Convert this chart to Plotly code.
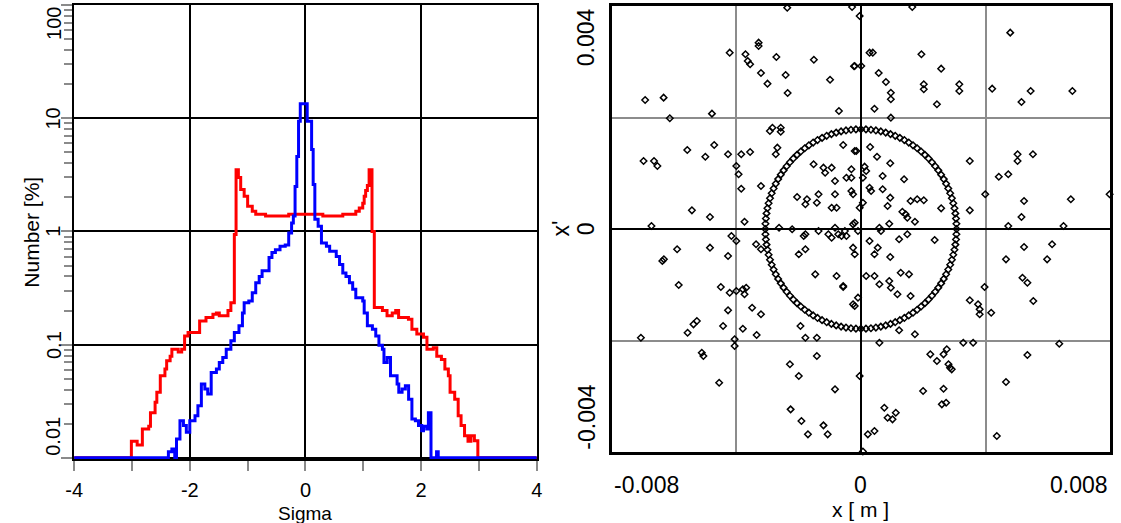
import math
import plotly.graph_objects as go

# ---------------- left panel: histograms (Number [%] vs Sigma), step curves ----------------
red_sigma = [-4.0, -3.01, -2.91, -2.82, -2.71, -2.68, -2.60, -2.57, -2.51, -2.43, -2.40, -2.34, -2.31,
             -2.20, -2.14, -2.09, -2.03, -1.83, -1.72, -1.60, -1.54, -1.49, -1.40, -1.34, -1.29, -1.23,
             -1.20, -1.16, -1.12, -1.06, -1.00, -0.92, -0.86, -0.69, -0.29, 0.30, 0.645, 0.87, 0.93,
             0.99, 1.015, 1.04, 1.07, 1.10, 1.15, 1.19, 1.33, 1.41, 1.50, 1.56, 1.61, 1.78, 1.84, 1.925,
             2.04, 2.10, 2.21, 2.27, 2.35, 2.41, 2.47, 2.50, 2.58, 2.64, 2.69, 2.75, 2.81, 2.86, 2.92,
             2.98, 4.0]
red_pct = [0.01, 0.014, 0.013, 0.018, 0.019, 0.025, 0.031, 0.038, 0.053, 0.061, 0.072, 0.079, 0.091,
           0.086, 0.091, 0.119, 0.128, 0.162, 0.174, 0.186, 0.19, 0.18, 0.18, 0.20, 0.235, 0.94,
           3.5, 3.0, 2.35, 2.05, 1.67, 1.51, 1.42, 1.37, 1.42, 1.37, 1.42, 1.51, 1.61,
           1.77, 2.05, 2.3, 2.55, 3.5, 1.0, 0.213, 0.20, 0.18, 0.19, 0.20, 0.174, 0.168, 0.137, 0.124,
           0.116, 0.091, 0.094, 0.079, 0.074, 0.061, 0.053, 0.038, 0.033, 0.0236, 0.0193, 0.0157, 0.014,
           0.0157, 0.0142, 0.01, 0.01]

blue_sigma = [-4.0, -2.37, -2.31, -2.26, -2.23, -2.17, -2.11, -2.06, -2.00, -1.91, -1.86, -1.80, -1.74,
              -1.69, -1.63, -1.54, -1.49, -1.43, -1.37, -1.29, -1.23, -1.15, -1.09, -1.06, -0.98, -0.92,
              -0.86, -0.80, -0.75, -0.63, -0.58, -0.52, -0.44, -0.35, -0.29, -0.24, -0.21, -0.18, -0.15,
              -0.12, -0.09, 0.03, 0.106, 0.133, 0.162, 0.219, 0.276, 0.362, 0.418, 0.532, 0.589, 0.645,
              0.70, 0.76, 0.816, 0.87, 0.99, 1.015, 1.07, 1.157, 1.215, 1.27, 1.33, 1.357, 1.413, 1.47,
              1.584, 1.613, 1.67, 1.727, 1.783, 1.84, 1.90, 1.954, 2.01, 2.04, 2.096, 2.125, 2.17, 2.266,
              2.295, 4.0]
blue_pct = [0.01, 0.0113, 0.012, 0.01, 0.0147, 0.0213, 0.0193, 0.0168, 0.0213, 0.0236, 0.0289, 0.0449,
            0.0405, 0.0366, 0.0569, 0.061, 0.0697, 0.077, 0.091, 0.108, 0.128, 0.147, 0.19, 0.235, 0.243,
            0.288, 0.353, 0.40, 0.45, 0.59, 0.65, 0.69, 0.74, 0.76, 0.97, 1.19, 1.37, 2.5, 4.6, 9.4, 13.4,
            9.4, 5.3, 2.6, 1.28, 1.11, 0.79, 0.74, 0.67, 0.60, 0.51, 0.43, 0.40, 0.353, 0.308, 0.26, 0.243,
            0.19, 0.147, 0.137, 0.119, 0.099, 0.091, 0.0697, 0.077, 0.053, 0.0449, 0.038, 0.0405, 0.0433,
            0.033, 0.022, 0.0213, 0.0193, 0.0174, 0.019, 0.018, 0.025, 0.01, 0.0113, 0.01, 0.01]

left_x_ticks = [-4, -2, 0, 2, 4]
left_x_ticktext = ["-4", "-2", "0", "2", "4"]
left_x_minor = [-3, -1, 1, 3]
left_y_ticks = [0.01, 0.1, 1, 10, 100]
left_y_ticktext = ["0.01", "0.1", "1", "10", "100"]
left_y_minor = [m * 10.0 ** e for e in range(-2, 2) for m in range(2, 10)]

# ---------------- right panel: phase space x' vs x (values in mm, converted to m) ----------------
ring_x_mm = [3.070, 3.066, 3.053, 3.032, 3.003, 2.965, 2.920, 2.866, 2.804, 2.735, 2.659, 2.575, 2.484,
             2.386, 2.281, 2.171, 2.054, 1.932, 1.805, 1.672, 1.535, 1.394, 1.249, 1.100, 0.949, 0.795,
             0.638, 0.480, 0.321, 0.161,
             0.000, -0.161, -0.321, -0.480, -0.638, -0.795, -0.949, -1.100, -1.249, -1.394, -1.535,
             -1.672, -1.805, -1.932, -2.054, -2.171, -2.281, -2.386, -2.484, -2.575, -2.659, -2.735,
             -2.804, -2.866, -2.920, -2.965, -3.003, -3.032, -3.053, -3.066,
             -3.070, -3.066, -3.053, -3.032, -3.003, -2.965, -2.920, -2.866, -2.804, -2.735, -2.659,
             -2.575, -2.484, -2.386, -2.281, -2.171, -2.054, -1.932, -1.805, -1.672, -1.535, -1.394,
             -1.249, -1.100, -0.949, -0.795, -0.638, -0.480, -0.321, -0.161,
             0.000, 0.161, 0.321, 0.480, 0.638, 0.795, 0.949, 1.100, 1.249, 1.394, 1.535, 1.672, 1.805,
             1.932, 2.054, 2.171, 2.281, 2.386, 2.484, 2.575, 2.659, 2.735, 2.804, 2.866, 2.920, 2.965,
             3.003, 3.032, 3.053, 3.066]
ring_y_mm = [0.000, 0.094, 0.187, 0.280, 0.372, 0.463, 0.553, 0.642, 0.728, 0.813, 0.895, 0.975, 1.052,
             1.126, 1.198, 1.266, 1.330, 1.391, 1.448, 1.501, 1.550, 1.595, 1.635, 1.671, 1.702, 1.729,
             1.751, 1.768, 1.780, 1.787,
             1.790, 1.787, 1.780, 1.768, 1.751, 1.729, 1.702, 1.671, 1.635, 1.595, 1.550, 1.501, 1.448,
             1.391, 1.330, 1.266, 1.198, 1.126, 1.052, 0.975, 0.895, 0.813, 0.728, 0.642, 0.553, 0.463,
             0.372, 0.280, 0.187, 0.094,
             0.000, -0.094, -0.187, -0.280, -0.372, -0.463, -0.553, -0.642, -0.728, -0.813, -0.895,
             -0.975, -1.052, -1.126, -1.198, -1.266, -1.330, -1.391, -1.448, -1.501, -1.550, -1.595,
             -1.635, -1.671, -1.702, -1.729, -1.751, -1.768, -1.780, -1.787,
             -1.790, -1.787, -1.780, -1.768, -1.751, -1.729, -1.702, -1.671, -1.635, -1.595, -1.550,
             -1.501, -1.448, -1.391, -1.330, -1.266, -1.198, -1.126, -1.052, -0.975, -0.895, -0.813,
             -0.728, -0.642, -0.553, -0.463, -0.372, -0.280, -0.187, -0.094]

halo_x_mm = [
    -2.367, -3.286, -3.286, -4.215, -3.708, -3.635, -3.559, -2.716, -1.512, -0.222,
    -3.210, -2.418, -3.001, -0.992, -2.354, -6.930, -6.337, -4.785, -6.138, -0.707,
    -2.925, -2.842, -2.576, -2.576, -0.570, -0.200, -2.684, -2.735, -5.577, -4.712,
    -4.997, -4.268, -3.844, -3.559, -6.981, -6.645, -6.537, -4.002, -3.929, -3.844,
    -3.210, -1.521, -1.204, -0.941, -1.150, -0.307, -0.466, -0.833, -2.050, -1.733,
    -1.784, -1.362, -1.416, -0.833, -0.941, -0.783, -0.307, -0.253, -5.428, -4.848,
    -6.727, -3.739, -2.630, -2.209, -1.784, -1.362, -1.046, -0.833, -0.941, -0.729,
    -0.516, -0.253, -4.160, -4.002, -5.903, -4.848, -4.268, -3.368, -3.210, -1.838,
    -1.784, -1.996, -6.328,
    -6.378, -5.852, -4.499, -4.215, -4.002, -3.793, -3.739, -3.685, -4.268, -3.495,
    -3.210, -4.427, -3.793, -5.269, -5.377, -5.567, -7.066, -3.349, -4.056, -4.056,
    -5.111, -5.060, -4.553, -1.942, -1.784, -1.416, -1.467, -0.783, -0.570, -0.200,
    -1.416, -2.281, -1.996, -0.833, -2.259, -1.911, -1.702, -1.204, -1.068,
    -0.285, 1.648, -0.041, 0.276, 0.380, 1.942, -0.200, 0.010, 2.576, 0.570,
    0.802, 0.960, 0.960, 2.018, 2.018, 3.159, 3.159, 2.440, 0.434, 0.960,
    4.794, 4.214, 5.450, 6.790, 5.155,
    0.295, 0.516, 0.941, -0.149, 0.117, 0.168, 0.063, -0.307, 0.697, 1.385,
    3.495, 5.029, 5.029, 5.523, 4.427, 4.731, 0.276, 0.326, 0.697, 0.941,
    1.594, 1.806, 2.018, 0.856, 0.063, -0.041, 1.331, 1.435, 1.489, 1.733,
    2.576, 3.495, 3.992, 5.238, 6.740, 7.985, 5.155, 4.731, 6.505, 0.593,
    0.643, 0.909, -0.200, -0.095, -0.624, -0.466, 0.276, 1.226, 1.489, 2.367,
    5.238, 6.138, -0.253, -0.200, 0.539, 0.434, 0.941, 4.658, 5.979,
    5.187, 5.345, 3.970, 5.535, 3.495, 3.761, 3.812, 3.812, 4.183, 0.168,
    0.434, 0.593, 0.909, 0.960, 1.172, 1.277, 1.543, 1.594, -0.253, -0.095,
    -0.570, 1.226, 1.733, 0.593, 3.286, 3.603, 6.369, 5.345, 2.228, 2.440,
    2.652, 2.757, 2.811, 2.861, 2.915, -0.041, 4.658, 1.996, 2.652, 2.598,
    2.735, 0.751, 0.856, 1.014, 1.119, 0.222, 0.434, 4.363, 0.063]
halo_y_mm = [
    3.970, 3.342, 3.283, 3.163, 3.134, 3.014, 2.955, 3.086, 3.037, 2.919,
    2.799, 2.763, 2.607, 2.678, 2.440, 2.314, 2.356, 2.069, 1.986, 2.117,
    1.758, 1.817, 1.817, 1.746, 1.507, 1.399, 1.459, 1.340, 1.417, 1.507,
    1.297, 1.340, 1.340, 1.381, 1.220, 1.220, 1.130, 1.130, 0.981, 0.723,
    0.771, 1.161, 1.100, 1.100, 1.010, 1.071, 0.920, 0.861, 0.574, 0.533,
    0.443, 0.623, 0.472, 0.623, 0.382, 0.382, 0.682, 0.623, 0.335, 0.215,
    0.054, 0.131, 0.023, -0.005, -0.095, -0.036, -0.095, 0.023, -0.156, -0.095,
    -0.036, 0.084, -0.126, -0.215, -0.364, -0.335, -0.484, -0.274, -0.364, -0.126,
    -0.364, -0.454, -0.544,
    -0.574, -1.005, -1.041, -1.143, -1.112, -1.082, -1.171, -1.053, -1.459, -1.412,
    -1.530, -1.740, -1.789, -1.650, -1.710, -1.860, -1.950, -1.902, -1.979, -2.099,
    -2.219, -2.278, -2.757, -1.740, -1.950, -1.950, -0.813, -0.843, -1.041, -1.381,
    -2.278, -2.427, -2.637, -2.876, -3.235, -3.444, -3.683, -3.522, -3.683,
    3.983, 3.983, 3.821, 3.163, 3.163, 3.134, 2.924, 2.924, 2.876, 2.799,
    2.637, 2.445, 2.327, 2.596, 2.506, 2.596, 2.476, 2.237, 2.158, 1.997,
    3.522, 2.517, 2.476, 2.476, 2.278,
    1.471, 1.297, 1.179, 1.399, 1.118, 1.041, 0.920, 0.920, 0.951, 0.892,
    1.220, 1.340, 1.220, 1.340, 0.938, 0.981, 0.741, 0.682, 0.712, 0.562,
    0.502, 0.533, 0.515, 0.413, 0.472, 0.382, 0.310, 0.264, 0.203, 0.131,
    0.371, 0.335, 0.623, 0.502, 0.533, 0.623, 0.215, 0.054, 0.054, 0.023,
    -0.036, 0.095, 0.113, -0.036, -0.126, -0.126, -0.215, -0.185, -0.095, -0.197,
    -0.323, -0.274, -0.335, -0.454, -0.335, -0.454, -0.502, -0.544, -0.544,
    -0.874, -0.963, -1.041, -1.292, -1.279, -1.351, -1.441, -1.530, -1.502, -0.843,
    -0.843, -0.992, -0.933, -1.053, -1.171, -0.784, -0.813, -1.202, -1.351, -1.232,
    -1.023, -1.817, -1.889, -2.040, -2.040, -2.040, -2.058, -2.260, -2.248, -2.368,
    -2.248, -2.158, -2.427, -2.488, -2.517, -2.637, -2.745, -2.906, -2.865, -3.145,
    -3.116, -3.206, -3.385, -3.414, -3.296, -3.683, -3.624, -3.714, -3.990]

right_x_ticktext = ["-0.008", "0", "0.008"]
right_x_tickvals = [-0.008, 0.0, 0.008]
right_y_ticktext = ["0.004", "0", "-0.004"]
right_y_tickvals = [0.004, 0.0, -0.004]

MM = 1e-3
FONT = "Liberation Sans, Arial, sans-serif"
W, H = 1121, 523

fig = go.Figure()
fig.add_trace(go.Scatter(x=red_sigma, y=red_pct, mode="lines", xaxis="x", yaxis="y",
                         line=dict(color="#ff0000", width=3, shape="hv"), showlegend=False,
                         hoverinfo="skip"))
fig.add_trace(go.Scatter(x=blue_sigma, y=blue_pct, mode="lines", xaxis="x", yaxis="y",
                         line=dict(color="#0000ff", width=3, shape="hv"), showlegend=False,
                         hoverinfo="skip"))
mk = dict(symbol="diamond-open", size=5, color="black", line=dict(width=1.5, color="black"))
fig.add_trace(go.Scatter(x=[v * MM for v in ring_x_mm], y=[v * MM for v in ring_y_mm],
                         mode="markers", xaxis="x2", yaxis="y2", marker=mk, cliponaxis=False,
                         showlegend=False, hoverinfo="skip"))
fig.add_trace(go.Scatter(x=[v * MM for v in halo_x_mm], y=[v * MM for v in halo_y_mm],
                         mode="markers", xaxis="x2", yaxis="y2", marker=mk, cliponaxis=False,
                         showlegend=False, hoverinfo="skip"))

GRAYTICK = "#8a8a8a"
fig.update_layout(
    width=W, height=H, margin=dict(l=0, r=0, t=0, b=0),
    paper_bgcolor="white", plot_bgcolor="white",
    font=dict(family=FONT, color="black"),
    xaxis=dict(domain=[66 / W, 535 / W], anchor="y", range=[-4, 4],
               tickmode="array", tickvals=left_x_ticks, ticktext=left_x_ticktext,
               ticks="outside", ticklen=10, tickwidth=2, tickcolor=GRAYTICK,
               tickfont=dict(size=20, family=FONT, color="black"), ticklabelstandoff=2,
               minor=dict(tickmode="array", tickvals=left_x_minor, ticks="outside", ticklen=10,
                          tickwidth=2, tickcolor=GRAYTICK, showgrid=False),
               showgrid=True, gridcolor="black", gridwidth=2, zeroline=False,
               showline=True, mirror=True, linecolor="black", linewidth=2, layer="below traces"),
    yaxis=dict(domain=[1 - 459 / H, 1 - 5 / H], anchor="x", type="log", range=[-2.01, 2],
               tickmode="array", tickvals=left_y_ticks, showticklabels=False,
               ticks="outside", ticklen=11, tickwidth=2, tickcolor=GRAYTICK,
               minor=dict(tickmode="array", tickvals=left_y_minor, ticks="outside", ticklen=8,
                          tickwidth=2, tickcolor=GRAYTICK, showgrid=False),
               showgrid=True, gridcolor="black", gridwidth=2, zeroline=False,
               showline=True, mirror=True, linecolor="black", linewidth=2, layer="below traces"),
    xaxis2=dict(domain=[611 / W, 1116 / W], anchor="y2", range=[-0.008, 0.008],
                tickmode="array", tickvals=[-0.004, 0.0, 0.004], showticklabels=False, ticks="",
                showgrid=True, gridcolor="#8c8c8c", gridwidth=2,
                zeroline=True, zerolinecolor="black", zerolinewidth=2,
                showline=True, mirror=True, linecolor="black", linewidth=2.5, layer="below traces"),
    yaxis2=dict(domain=[1 - 452 / H, 1 - 6 / H], anchor="x2", range=[-0.004, 0.004],
                tickmode="array", tickvals=[-0.002, 0.0, 0.002], showticklabels=False, ticks="",
                showgrid=True, gridcolor="#8c8c8c", gridwidth=2,
                zeroline=True, zerolinecolor="black", zerolinewidth=2,
                showline=True, mirror=True, linecolor="black", linewidth=2.5, layer="below traces"),
)

ann = []
# left y tick labels (rotated), placed at their log positions
for i, (v, t) in enumerate(zip(left_y_ticks, left_y_ticktext)):
    ya = "top" if i == len(left_y_ticks) - 1 else ("bottom" if i == 0 else "middle")
    ann.append(dict(text=t, xref="paper", x=45 / W, xanchor="center",
                    yref="y", y=math.log10(v), yanchor=ya, textangle=-90, showarrow=False,
                    font=dict(size=20, family=FONT, color="black")))
# right y tick labels
for i, (v, t) in enumerate(zip(right_y_tickvals, right_y_ticktext)):
    ya = "top" if i == 0 else ("bottom" if i == len(right_y_tickvals) - 1 else "middle")
    ann.append(dict(text=t, xref="paper", x=585 / W, xanchor="center",
                    yref="y2", y=v, yanchor=ya, textangle=-90, showarrow=False,
                    font=dict(size=23, family=FONT, color="black")))
# right x tick labels
for i, (v, t) in enumerate(zip(right_x_tickvals, right_x_ticktext)):
    xa = "left" if i == 0 else ("right" if i == len(right_x_tickvals) - 1 else "center")
    ann.append(dict(text=t, xref="x2", x=v, xanchor=xa, yref="paper", y=1 - 485 / H,
                    yanchor="middle", showarrow=False,
                    font=dict(size=23, family=FONT, color="black")))
# axis titles
ann.append(dict(text="Sigma", xref="x", x=0, xanchor="center", yref="paper", y=1 - 513 / H,
                yanchor="middle", showarrow=False, font=dict(size=19, family=FONT, color="black")))
ann.append(dict(text="Number [%]", xref="paper", x=22 / W, xanchor="center", yref="y domain", y=0.5,
                yanchor="middle", textangle=-90, showarrow=False,
                font=dict(size=21, family=FONT, color="black")))
ann.append(dict(text="x [ m ]", xref="x2", x=0, xanchor="center", yref="paper", y=1 - 509 / H,
                yanchor="middle", showarrow=False, font=dict(size=21, family=FONT, color="black")))
ann.append(dict(text="x'", xref="paper", x=559 / W, xanchor="center", yref="y2 domain", y=0.5,
                yanchor="middle", textangle=-90, showarrow=False,
                font=dict(size=23, family=FONT, color="black")))
fig.update_layout(annotations=ann)

fig.write_html("out.html")
